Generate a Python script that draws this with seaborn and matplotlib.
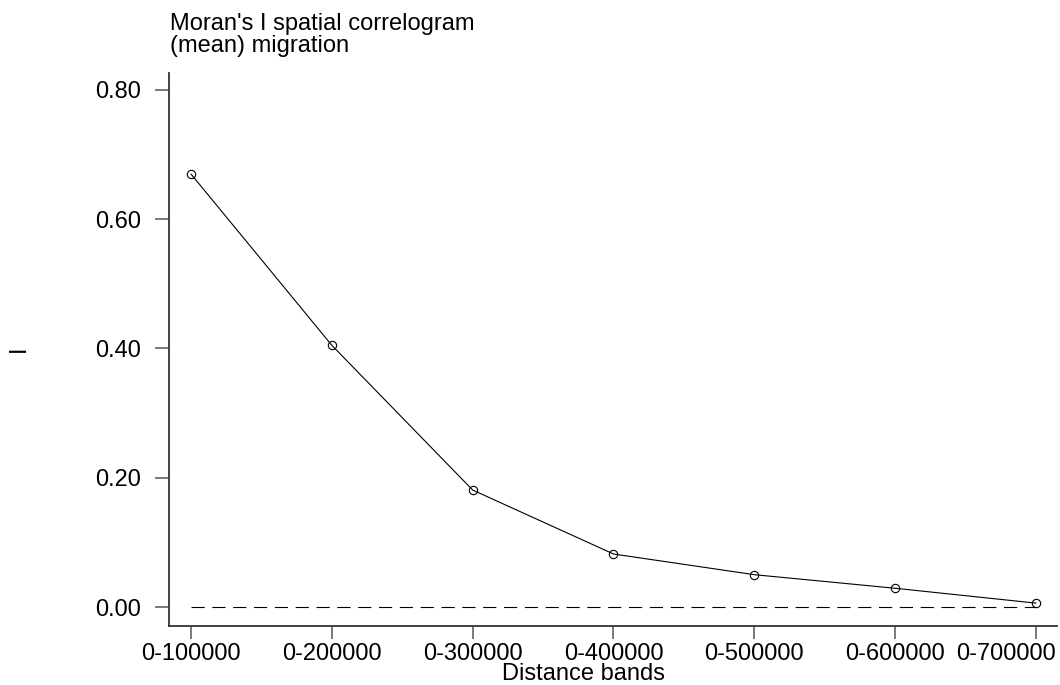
import numpy as np
import matplotlib
matplotlib.use("Agg")
import matplotlib.pyplot as plt
import matplotlib.transforms as mtransforms
import seaborn as sns

# Moran's I by cumulative distance band
bands = ["0-100000", "0-200000", "0-300000", "0-400000",
         "0-500000", "0-600000", "0-700000"]
moran_i = [0.670, 0.405, 0.181, 0.082, 0.050, 0.029, 0.006]
y_ticks = [0.0, 0.2, 0.4, 0.6, 0.8]
y_ticklabels = ["0.00", "0.20", "0.40", "0.60", "0.80"]

sns.set_theme(style="ticks")
plt.rcParams["font.family"] = ["Liberation Sans", "DejaVu Sans"]
plt.rcParams["lines.scale_dashes"] = False
plt.rcParams["text.color"] = "black"

FS = 17
fig = plt.figure(figsize=(10.6, 6.85), dpi=100, facecolor="white")
ax = fig.add_axes([169 / 1060, 1 - 626 / 685, (1057 - 169) / 1060, (626 - 73) / 685])
ax.set_facecolor("white")

pos = np.arange(len(bands))

# zero reference line across the bands
ax.hlines(0, pos[0], pos[-1], colors="black", linewidth=0.8,
          linestyles=(0, (9.5, 5.5)), zorder=1)

sns.lineplot(x=pos, y=moran_i, ax=ax, color="black", linewidth=0.8,
             marker="o", markersize=6, markerfacecolor="none",
             markeredgecolor="black", markeredgewidth=0.8, zorder=3)

ax.set_xlim(-0.156, len(bands) - 1 + 0.149)
ax.set_ylim(-0.0294, 0.8263)
ax.set_xticks(pos, bands)
ax.set_yticks(y_ticks, y_ticklabels)

for side in ("top", "right"):
    ax.spines[side].set_visible(False)
for side in ("left", "bottom"):
    ax.spines[side].set_color("#333333")
    ax.spines[side].set_linewidth(1.3)

ax.tick_params(axis="y", length=10, width=1.1, color="#555555", pad=10,
               labelsize=FS, labelcolor="black")
ax.tick_params(axis="x", length=9, width=1.1, color="#555555", pad=3,
               labelsize=FS, labelcolor="black")

# keep the last band label inside the figure
last = ax.get_xticklabels()[-1]
last.set_transform(last.get_transform() +
                   mtransforms.ScaledTranslation(-0.30, 0, fig.dpi_scale_trans))

ax.set_xlabel("")
ax.set_ylabel("")
fig.text(583 / 1060, 1 - 674 / 685, "Distance bands", fontsize=FS,
         ha="center", va="center", color="black")
fig.text(19 / 1060, 1 - 349 / 685, "I", fontsize=FS, rotation=90,
         ha="center", va="center", color="black")

fig.text(170 / 1060, 1 - 13 / 685,
         "Moran's I spatial correlogram\n(mean) migration",
         fontsize=FS, ha="left", va="top", linespacing=1.0, color="black")

fig.savefig("out.png", dpi=100, facecolor="white")
